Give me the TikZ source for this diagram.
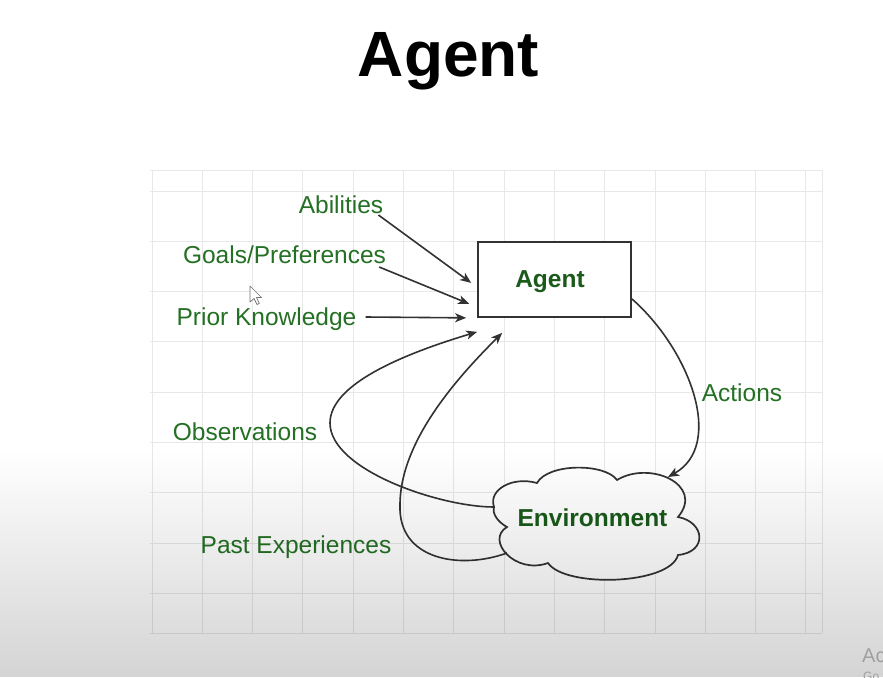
\documentclass[tikz,border=0pt]{standalone}
\usepackage{fontspec}
\setmainfont{Liberation Sans}
\usetikzlibrary{arrows.meta,fadings,calc}
\definecolor{lbl}{RGB}{36,112,36}
\definecolor{lblb}{RGB}{26,90,26}
\definecolor{ink}{RGB}{50,50,50}
\definecolor{gridc}{RGB}{232,232,232}
\definecolor{wm}{RGB}{160,160,160}
\tikzfading[name=shadeup, top color=transparent!100, bottom color=transparent!0]
\begin{document}
\begin{tikzpicture}[x=1pt,y=-1pt,
  lbl/.style={text=lbl, font=\fontsize{24.5}{28}\selectfont, inner sep=0pt, anchor=base},
  boldlbl/.style={text=lblb, font=\fontsize{24.5}{28}\selectfont\bfseries, inner sep=0pt, anchor=base},
  link/.style={draw=ink, line width=1.6pt, -{Stealth[length=11pt,width=9pt,inset=3pt]}},
  gridline/.style={draw=gridc, line width=0.9pt},
]
\useasboundingbox (0,0) rectangle (883,677);
\fill[white] (0,0) rectangle (883,677);

% background grid
\foreach \i in {0,...,13} \draw[gridline] ({152+50.3*\i},170) -- ({152+50.3*\i},633);
\draw[gridline] (822,170) -- (822,633);
\foreach \j in {0,...,8} \draw[gridline] (150,{191+50.3*\j}) -- (822,{191+50.3*\j});
\draw[gridline] (150,170) -- (822,170);
\draw[gridline] (150,633) -- (822,633);

% title
\node[font=\fontsize{64}{70}\selectfont\bfseries, inner sep=0pt, anchor=base] (title) at (448.5,77) {Agent};

% agent box
\node[draw=ink, line width=1.7pt, fill=white, minimum width=153pt, minimum height=75pt, inner sep=0pt] (agent) at (554.5,279.5) {};
\node[boldlbl] (agenttxt) at (550,287) {Agent};

% environment cloud
\path[draw=ink, line width=1.7pt, fill=white]
  (494,507) .. controls (488,490) and (512,476) .. (537,483)
  .. controls (548,463) and (605,463) .. (617,480)
  .. controls (650,460) and (705,485) .. (678,517)
  .. controls (705,522) and (708,552) .. (678,555)
  .. controls (670,585) and (565,588) .. (548,563)
  .. controls (515,575) and (485,540) .. (507,527)
  .. controls (498,522) and (492,514) .. (494,507) -- cycle;
\node[boldlbl] (env) at (592.5,526) {Environment};
\coordinate (envObs) at (494,507);
\coordinate (envPast) at (507,553);
\coordinate (envAct) at (668,477);

% labels
\node[lbl] (abil) at (341,213) {Abilities};
\node[lbl] (goals) at (284.5,263) {Goals/Preferences};
\node[lbl] (prior) at (266.5,325) {Prior Knowledge};
\node[lbl] (obs) at (245,440) {Observations};
\node[lbl] (past) at (296,553) {Past Experiences};
\node[lbl] (act) at (742,401) {Actions};

% arrow targets beside the agent box
\coordinate (tipA) at ([shift={(-6,-35)}]agent.south west);
\coordinate (tipG) at ([shift={(-8,-14)}]agent.south west);
\coordinate (tipK) at ([shift={(-11,0)}]agent.south west);
\coordinate (tipO) at ([shift={(0,14)}]agent.south west);
\coordinate (tipP) at ([shift={(25,15)}]agent.south west);
\coordinate (actStart) at ([shift={(0,-19)}]agent.south east);

% inputs
\draw[link] ([shift={(-5,2)}]abil.base east) -- (tipA);
\draw[link] ([shift={(-7,4)}]goals.base east) -- (tipG);
\draw[link] ([shift={(9,-8)}]prior.base east) -- (tipK);
\draw[link] (envObs) .. controls (440,507) and (330,470) .. (330,423)
  .. controls (330,385) and (400,355) .. (tipO);
\draw[link] (envPast) .. controls (460,570) and (398,560) .. (400,505)
  .. controls (400,440) and (460,375) .. (tipP);
\draw[link] (actStart) .. controls (690,350) and (725,445) .. (envAct);

% mouse pointer
\draw[draw=black!55, fill=white, line width=0.7pt, line join=round]
  (250,286) -- (250,302) -- (254,298.5) -- (257,304.5) -- (259.3,303.5) -- (256.5,297.5) -- (261.5,297.5) -- cycle;

% screen shading towards the bottom
\fill[black, fill opacity=0.17, path fading=shadeup] (0,450) rectangle (883,677);

% system watermark at the corner
\node[text=wm, font=\fontsize{20}{22}\selectfont, inner sep=0pt, anchor=base west] (wm1) at (862,662) {Activate Windows};
\node[text=wm, font=\fontsize{12}{14}\selectfont, inner sep=0pt, anchor=base west] (wm2) at (863,680) {Go to Settings to activate Windows.};
\end{tikzpicture}
\end{document}
